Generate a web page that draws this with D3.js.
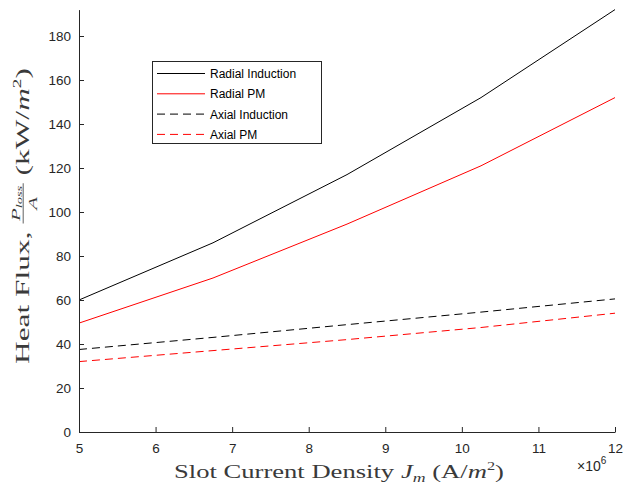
<!DOCTYPE html>
<html><head><meta charset="utf-8">
<script src="https://cdn.jsdelivr.net/npm/d3@7"></script>
<style>body{margin:0;background:#fff}svg{display:block}</style>
</head><body>
<script>
const xValues = [5, 6.75, 8.5, 10.25, 12];
const radialInduction = [60, 86, 117, 152, 192];
const radialPM = [49.5, 70, 94.5, 121, 152];
const axialInduction = [37.5, 43, 48.8, 54.5, 60.5];
const axialPM = [32, 37, 42, 47.5, 54];
const xTicks = [5, 6, 7, 8, 9, 10, 11, 12];
const yTicks = [0, 20, 40, 60, 80, 100, 120, 140, 160, 180];
const seriesNames = ["Radial Induction", "Radial PM", "Axial Induction", "Axial PM"];

const W = 626, H = 491;
const svg = d3.select("body").append("svg").attr("width", W).attr("height", H);
const x = d3.scaleLinear().domain([5, 12]).range([79, 615]);
const y = d3.scaleLinear().domain([0, 192]).range([432, 9.6]);
const axisColor = "#262626";
const labelColor = "#3a3a3a";
const SERIF = "Liberation Serif, DejaVu Serif, serif";
const SANS = "Liberation Sans, Arial, sans-serif";

const series = [
  {name: seriesNames[0], vals: radialInduction, color: "#000", dash: null},
  {name: seriesNames[1], vals: radialPM, color: "#ff0000", dash: null},
  {name: seriesNames[2], vals: axialInduction, color: "#000", dash: "8,5"},
  {name: seriesNames[3], vals: axialPM, color: "#ff0000", dash: "8,5"}
];
const line = d3.line().x(d => x(d[0])).y(d => y(d[1]));
series.forEach(s => {
  svg.append("path").datum(xValues.map((xv, i) => [xv, s.vals[i]]))
    .attr("d", line).attr("fill", "none").attr("stroke", s.color)
    .attr("stroke-width", 1).attr("stroke-dasharray", s.dash);
});

const xAxis = svg.append("g").attr("transform", "translate(0,432)")
  .call(d3.axisBottom(x).tickValues(xTicks).tickFormat(d3.format("d")).tickSizeInner(-5).tickSizeOuter(0).tickPadding(11));
const yAxis = svg.append("g").attr("transform", "translate(79,0)")
  .call(d3.axisLeft(y).tickValues(yTicks).tickFormat(d3.format("d")).tickSizeInner(-5).tickSizeOuter(0).tickPadding(8));
[xAxis, yAxis].forEach(g => {
  g.selectAll("path").attr("stroke", axisColor);
  g.selectAll("line").attr("stroke", axisColor);
  g.selectAll("text").attr("fill", axisColor).attr("font-family", SANS).attr("font-size", 13.5);
});

// exponent
const ex = svg.append("text").attr("x", 577).attr("y", 471).attr("fill", axisColor)
  .attr("font-family", SANS).attr("font-size", 14);
ex.append("tspan").text("×10");
ex.append("tspan").attr("font-size", 10).attr("dy", -7).text("6");

function buildLabel(g, pieces, fontSize) {
  let cx = 0;
  pieces.forEach(p => {
    if (p.frac) {
      const fg = g.append("g");
      const num = fg.append("text").attr("y", -fontSize * 0.45).attr("font-family", SERIF)
        .attr("font-style", "italic").attr("font-size", 13).attr("fill", labelColor);
      num.append("tspan").text("P");
      num.append("tspan").attr("font-size", 9).attr("dy", 2).text("loss");
      const den = fg.append("text").attr("y", fontSize * 0.42).attr("font-family", SERIF)
        .attr("font-style", "italic").attr("font-size", 13).attr("fill", labelColor).text("A");
      const nw = num.node().getComputedTextLength();
      const dw = den.node().getComputedTextLength();
      const fw = Math.max(nw, dw) + 3;
      num.attr("x", cx + (fw - nw) / 2);
      den.attr("x", cx + (fw - dw) / 2);
      fg.append("line").attr("x1", cx).attr("x2", cx + fw)
        .attr("y1", -fontSize * 0.3).attr("y2", -fontSize * 0.3)
        .attr("stroke", labelColor).attr("stroke-width", 0.8);
      cx += fw;
      return;
    }
    const t = g.append("text").attr("x", cx).attr("y", p.dy || 0)
      .attr("font-family", SERIF).attr("font-size", p.size || fontSize)
      .attr("font-style", p.italic ? "italic" : "normal").attr("fill", labelColor)
      .attr("xml:space", "preserve").text(p.t);
    cx += t.node().getComputedTextLength() + (p.after || 0);
  });
  return cx;
}

// x label
const xg = svg.append("g");
const xPieces = [
  {t: "Slot Current Density "}, {t: "J", italic: true, after: 0}, {t: "m", italic: true, size: 13, dy: 4},
  {t: " (A/"}, {t: "m", italic: true}, {t: "2", size: 12, dy: -8}, {t: ")"}
];
const xw = buildLabel(xg, xPieces, 19.5);
const xTarget = 330;
xg.attr("transform", `translate(${174},478) scale(${xTarget / xw},1)`);

// y label
const yg = svg.append("g");
const yPieces = [
  {t: "Heat Flux, "}, {frac: true}, {t: " (kW/"}, {t: "m", italic: true}, {t: "2", size: 12, dy: -8}, {t: ")"}
];
const yw = buildLabel(yg, yPieces, 19.5);
const yTarget = 296;
yg.attr("transform", `translate(29,${364}) rotate(-90) scale(${yTarget / yw},1)`);

// legend
const lg = svg.append("g");
lg.append("rect").attr("x", 152.5).attr("y", 61.5).attr("width", 169).attr("height", 82)
  .attr("fill", "#fff").attr("stroke", axisColor).attr("stroke-width", 1);
series.forEach((s, i) => {
  const yy = 73.5 + i * 20.3;
  lg.append("line").attr("x1", 157).attr("x2", 205).attr("y1", yy).attr("y2", yy)
    .attr("stroke", s.color).attr("stroke-width", 1).attr("stroke-dasharray", s.dash);
  lg.append("text").attr("x", 210).attr("y", yy + 4.5).text(s.name)
    .attr("font-family", SANS).attr("font-size", 12).attr("fill", "#000");
});
</script>
</body></html>
